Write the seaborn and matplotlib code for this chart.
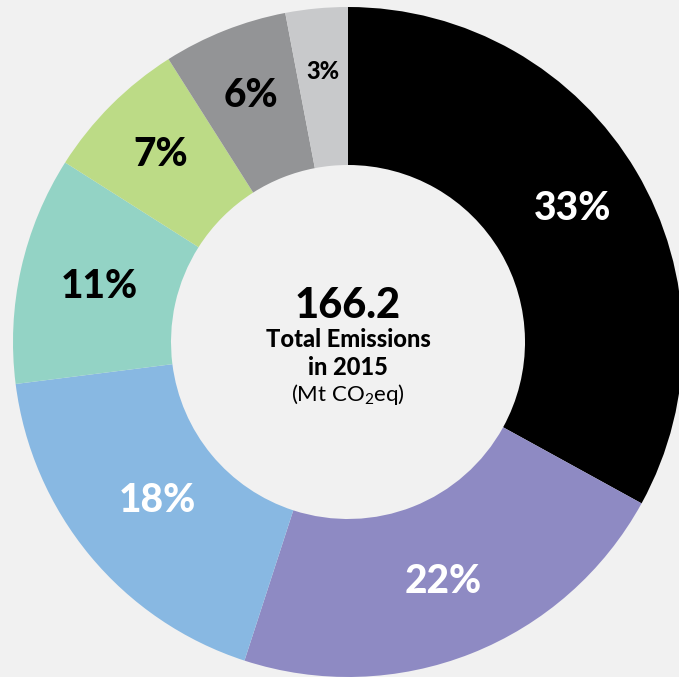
import matplotlib
matplotlib.use("Agg")
import matplotlib.pyplot as plt
import seaborn as sns
import numpy as np

sns.set_theme(style="white")
plt.rcParams['font.family'] = ['Lato', 'DejaVu Sans']
plt.rcParams['mathtext.default'] = 'regular'

categories = ["A", "B", "C", "D", "E", "F", "G"]
shares = [33, 22, 18, 11, 7, 6, 3]
labels = ["33%", "22%", "18%", "11%", "7%", "6%", "3%"]
colors = sns.color_palette(["#000000", "#8e8ac3", "#88b8e2", "#93d3c5",
                            "#bcdb86", "#939496", "#c8c9cb"])
label_colors = ["white", "white", "white", "black", "black", "black", "black"]
label_sizes = [28, 28, 28, 28, 28, 28, 17]

total_value = "166.2"

bg = "#f1f1f1"
fig = plt.figure(figsize=(6.79, 6.77), dpi=100, facecolor=bg)
ax = fig.add_axes([0, 0, 1, 1])
ax.set_facecolor(bg)

R = 335.0
cx, cy = 348.0, 677 - 342.0
wedges, _ = ax.pie(shares, colors=colors, startangle=90, counterclock=False,
                   radius=1.0, wedgeprops=dict(width=1 - 177 / R, linewidth=0))

total = sum(shares)
start = 90.0
rads = [0.78, 0.77, 0.74, 0.76, 0.79, 0.79, 0.81]
for v, lab, c, s, r in zip(shares, labels, label_colors, label_sizes, rads):
    mid = start - v / total * 360 / 2
    start -= v / total * 360
    ax.text(r * np.cos(np.radians(mid)), r * np.sin(np.radians(mid)), lab,
            ha="center", va="center", color=c, fontsize=s, fontweight="black")

ax.text(0, 0.108, total_value, ha="center", va="center", fontsize=30,
        fontweight="black", color="black")
ax.text(0, 0.008, "Total Emissions", ha="center", va="center", fontsize=17,
        fontweight="black", color="black")
ax.text(0, -0.075, "in 2015", ha="center", va="center", fontsize=17,
        fontweight="black", color="black")
ax.text(0, -0.158, "(Mt CO$_2$eq)", ha="center", va="center", fontsize=16,
        color="black")

ax.set_xlim(-cx / R, (679 - cx) / R)
ax.set_ylim(-cy / R, (677 - cy) / R)
ax.set_aspect("auto")
ax.axis("off")

fig.savefig("out.png", dpi=100, facecolor=bg)
